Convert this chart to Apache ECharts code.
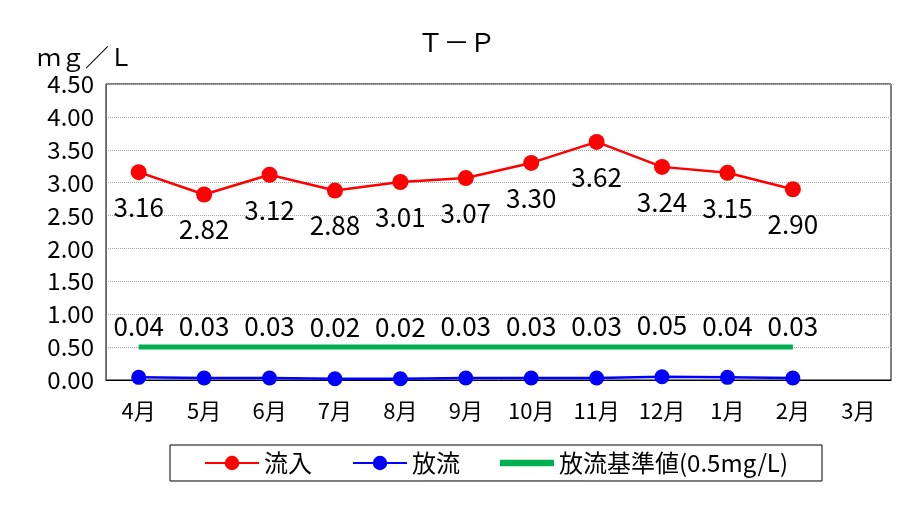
<!DOCTYPE html>
<html>
<head>
<meta charset="utf-8">
<script src="https://cdn.jsdelivr.net/npm/echarts@6/dist/echarts.min.js"></script>
<style>
    html, body { margin: 0; padding: 0; background: #fff; }
    #chart { width: 913px; height: 523px; }
</style>
</head>
<body>
<div id="chart"></div>
<script>
const months = ['4月', '5月', '6月', '7月', '8月', '9月', '10月', '11月', '12月', '1月', '2月', '3月'];
const inflow = [3.16, 2.82, 3.12, 2.88, 3.01, 3.07, 3.30, 3.62, 3.24, 3.15, 2.90, null];
const effluent = [0.04, 0.03, 0.03, 0.02, 0.02, 0.03, 0.03, 0.03, 0.05, 0.04, 0.03, null];
const standard = [0.5, 0.5, 0.5, 0.5, 0.5, 0.5, 0.5, 0.5, 0.5, 0.5, 0.5, null];

const font = '"Noto Sans CJK JP", sans-serif';

function fmt(p) {
    return p.value == null ? '' : p.value.toFixed(2);
}

const chart = echarts.init(document.getElementById('chart'));

chart.setOption({
    animation: false,
    title: [
        {
            text: 'Ｔ－Ｐ',
            left: 'center',
            top: 24,
            textStyle: { fontFamily: font, fontSize: 26, fontWeight: 'normal', color: '#000' }
        },
        {
            text: 'ｍｇ／Ｌ',
            left: 32,
            top: 40,
            textStyle: { fontFamily: font, fontSize: 24, fontWeight: 'normal', color: '#000' }
        }
    ],
    legend: {
        data: [
            { name: '流入' },
            { name: '放流' },
            { name: '放流基準値(0.5mg/L)', icon: 'path://M0,0 L50,0 L50,6 L0,6 Z' }
        ],
        left: 170,
        top: 445,
        width: 665,
        padding: [6, 34, 6, 34],
        borderColor: '#000',
        borderWidth: 1,
        itemGap: 40,
        itemWidth: 54,
        itemHeight: 18,
        textStyle: { fontFamily: font, fontSize: 24, color: '#000' }
    },
    grid: { left: 106, right: 22, top: 84, bottom: 143, show: true, borderColor: '#000', borderWidth: 1 },
    xAxis: {
        type: 'category',
        data: months,
        boundaryGap: true,
        axisLine: { lineStyle: { color: '#000', width: 1 } },
        axisTick: { inside: true, length: 5, lineStyle: { color: '#888' } },
        axisLabel: { interval: 0, fontFamily: font, fontSize: 22, color: '#000', margin: 20 }
    },
    yAxis: {
        type: 'value',
        min: 0,
        max: 4.5,
        interval: 0.5,
        axisLine: { show: true, lineStyle: { color: '#666' } },
        axisTick: { show: false },
        axisLabel: {
            fontFamily: font, fontSize: 24, color: '#000', margin: 12,
            formatter: v => v.toFixed(2)
        },
        splitLine: { lineStyle: { color: '#aaa', type: 'dotted' } }
    },
    series: [
        {
            name: '流入',
            type: 'line',
            data: inflow,
            color: '#ff0000',
            symbol: 'circle',
            symbolSize: 16,
            lineStyle: { width: 2.5, color: '#ff0000' },
            label: {
                show: true, position: 'bottom', distance: 14,
                fontFamily: font, fontSize: 26, color: '#000', formatter: fmt
            }
        },
        {
            name: '放流',
            type: 'line',
            data: effluent,
            color: '#0000ff',
            symbol: 'circle',
            symbolSize: 15,
            lineStyle: { width: 2.5, color: '#0000ff' },
            label: {
                show: true, position: 'top', distance: 31,
                fontFamily: font, fontSize: 26, color: '#000', formatter: fmt
            }
        },
        {
            name: '放流基準値(0.5mg/L)',
            type: 'line',
            data: standard,
            color: '#00b050',
            symbol: 'none',
            lineStyle: { width: 5, color: '#00b050' }
        }
    ]
});
</script>
</body>
</html>
